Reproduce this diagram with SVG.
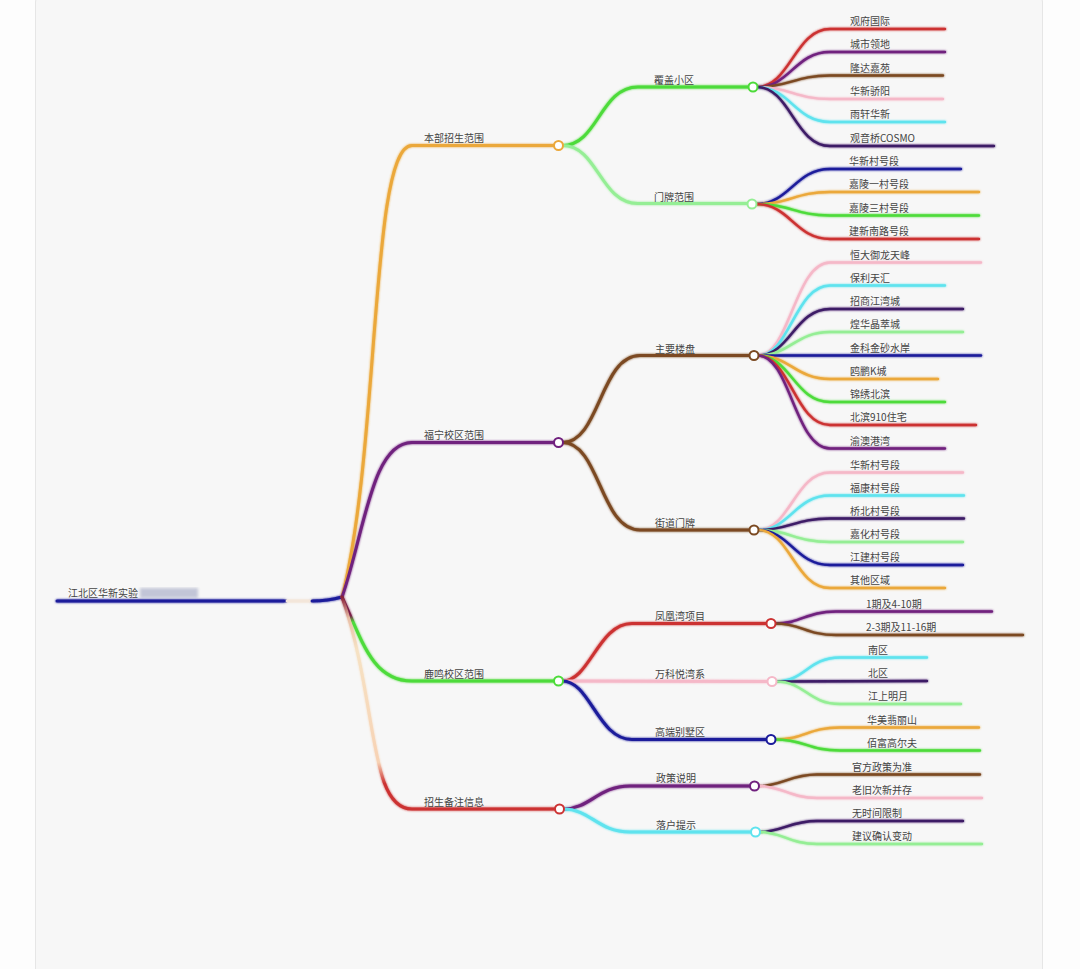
<svg xmlns="http://www.w3.org/2000/svg" width="1080" height="969" viewBox="0 0 1080 969">
<defs>
<style>
text{font-family:"Noto Sans CJK SC","Noto Sans",sans-serif;font-size:10px;fill:#444}
.c path{fill:none;stroke-linecap:round}
.l1{stroke-width:3}
.l2{stroke-width:3}
.lf{stroke-width:2.4}
.dot{fill:#fff;stroke-width:2}
</style>
<filter id="glow" x="-5%" y="-5%" width="110%" height="110%">
<feGaussianBlur in="SourceGraphic" stdDeviation="1.1" result="b"/>
<feMerge><feMergeNode in="b"/><feMergeNode in="SourceGraphic"/></feMerge>
</filter>
<filter id="blur"><feGaussianBlur stdDeviation="1.4"/></filter>
<linearGradient id="gRed" gradientUnits="userSpaceOnUse" x1="0" y1="597" x2="0" y2="809">
<stop offset="0" stop-color="#8a2038"/>
<stop offset="0.1" stop-color="#e9c0a8"/>
<stop offset="0.25" stop-color="#f6e2c4"/>
<stop offset="0.78" stop-color="#f7d2b4"/>
<stop offset="0.88" stop-color="#cc3333"/>
<stop offset="1" stop-color="#cc3333"/>
</linearGradient>
<linearGradient id="gGreen" gradientUnits="userSpaceOnUse" x1="0" y1="597" x2="0" y2="681">
<stop offset="0" stop-color="#7a1f4a"/>
<stop offset="0.22" stop-color="#7a1f4a"/>
<stop offset="0.3" stop-color="#4ddb3a"/>
<stop offset="1" stop-color="#4ddb3a"/>
</linearGradient>
</defs>
<rect x="0" y="0" width="1080" height="969" fill="#fdfdfd"/>
<rect x="35.5" y="-12" width="1007" height="1000" rx="14" fill="#f7f7f7" stroke="#e6e6e6"/>

<g id="connectors" class="c" filter="url(#glow)">
<!-- root -->
<path d="M57,601 L286,601" stroke="#1b1b9b" class="l1"/>
<path d="M287,601 L311,601" stroke="#f3e6da" class="l1"/>
<path d="M312,601 C328,601 335,599 342,597" stroke="#1b1b9b" class="l1"/>
<!-- level 1 -->
<path d="M342,597 C380,450 370,145.5 412,145.5 L554,145.5" stroke="#eba83a" class="l1"/>
<path d="M342,597 C365,530 372,442.5 412,442.5 L554,442.5" stroke="#70207e" class="l1"/>
<path d="M342,597 C362,640 372,681 412,681 L554,681" stroke="url(#gGreen)" class="l1"/>
<path d="M342,597 C378,700 368,809 412,809 L555,809" stroke="url(#gRed)" class="l1"/>
<!-- level 2 -->
<path d="M562.5,145.5 C598,145.5 600,87 638,87 L749,87" stroke="#4ddb3a" class="l2"/>
<path d="M562.5,145.5 C598,145.5 600,203.5 638,203.5 L748,203.5" stroke="#95ee95" class="l2"/>
<path d="M562.5,442.5 C600,442.5 600,355.5 640,355.5 L750,355.5" stroke="#7b4a22" class="l2"/>
<path d="M562.5,442.5 C600,442.5 600,530 640,530 L750,530" stroke="#7b4a22" class="l2"/>
<path d="M562.5,681 C590,681 598,623.5 632,623.5 L766.5,623.5" stroke="#cc3333" class="l2"/>
<path d="M562.5,681 L767.5,681.5" stroke="#f5b8c8" class="l2"/>
<path d="M562.5,681 C590,681 598,739.5 632,739.5 L766.5,739.5" stroke="#1b1b9b" class="l2"/>
<path d="M564,809 C590,809 598,786 630,786 L750,786" stroke="#70207e" class="l2"/>
<path d="M564,809 C590,809 598,832 630,832 L751,832" stroke="#5ee3ee" class="l2"/>
<!-- leaves: 覆盖小区 -->
<path d="M757,87 C790,87 795,29 830,29 L945,29" stroke="#cc3333" class="lf"/>
<path d="M757,87 C790,87 795,52 830,52 L945,52" stroke="#70207e" class="lf"/>
<path d="M757,87 C790,87 795,75.5 830,75.5 L943,75.5" stroke="#7b4a22" class="lf"/>
<path d="M757,87 C790,87 795,99 830,99 L943,99" stroke="#f5b8c8" class="lf"/>
<path d="M757,87 C790,87 795,122 830,122 L945,122" stroke="#5ee3ee" class="lf"/>
<path d="M757,87 C790,87 795,146 830,146 L994,146" stroke="#3d1a66" class="lf"/>
<!-- 门牌范围 -->
<path d="M756,204 C790,204 795,169 830,169 L961,169" stroke="#1b1b9b" class="lf"/>
<path d="M756,204 C790,204 795,192 830,192 L979,192" stroke="#eba83a" class="lf"/>
<path d="M756,204 C790,204 795,215.5 830,215.5 L979,215.5" stroke="#4ddb3a" class="lf"/>
<path d="M756,204 C790,204 795,239 830,239 L979,239" stroke="#cc3333" class="lf"/>
<!-- 主要楼盘 -->
<path d="M758,355.5 C790,355.5 795,262.5 830,262.5 L981,262.5" stroke="#f5b8c8" class="lf"/>
<path d="M758,355.5 C790,355.5 795,285.5 830,285.5 L945,285.5" stroke="#5ee3ee" class="lf"/>
<path d="M758,355.5 C790,355.5 795,309 830,309 L963,309" stroke="#3d1a66" class="lf"/>
<path d="M758,355.5 C790,355.5 795,332 830,332 L963,332" stroke="#95ee95" class="lf"/>
<path d="M758,355.5 L981,355.5" stroke="#1b1b9b" class="lf"/>
<path d="M758,355.5 C790,355.5 795,379 830,379 L938,379" stroke="#eba83a" class="lf"/>
<path d="M758,355.5 C790,355.5 795,402 830,402 L945,402" stroke="#4ddb3a" class="lf"/>
<path d="M758,355.5 C790,355.5 795,425 830,425 L976,425" stroke="#cc3333" class="lf"/>
<path d="M758,355.5 C790,355.5 795,448.5 830,448.5 L945,448.5" stroke="#70207e" class="lf"/>
<!-- 街道门牌 -->
<path d="M758,530 C790,530 795,472.5 830,472.5 L963,472.5" stroke="#f5b8c8" class="lf"/>
<path d="M758,530 C790,530 795,495.5 830,495.5 L964,495.5" stroke="#5ee3ee" class="lf"/>
<path d="M758,530 C790,530 795,518.5 830,518.5 L964,518.5" stroke="#3d1a66" class="lf"/>
<path d="M758,530 C790,530 795,542 830,542 L963,542" stroke="#95ee95" class="lf"/>
<path d="M758,530 C790,530 795,565 830,565 L963,565" stroke="#1b1b9b" class="lf"/>
<path d="M758,530 C790,530 795,588 830,588 L945,588" stroke="#eba83a" class="lf"/>
<!-- 凤凰湾项目 -->
<path d="M775,623.5 C802,623.5 806,611.5 836,611.5 L992,611.5" stroke="#70207e" class="lf"/>
<path d="M775,623.5 C802,623.5 806,635 836,635 L1023,635" stroke="#7b4a22" class="lf"/>
<!-- 万科悦湾系 -->
<path d="M776,681.5 C805,681.5 808,657.5 840,657.5 L927,657.5" stroke="#5ee3ee" class="lf"/>
<path d="M776,681.5 L927,681" stroke="#3d1a66" class="lf"/>
<path d="M776,681.5 C805,681.5 808,704 840,704 L961,704" stroke="#95ee95" class="lf"/>
<!-- 高端别墅区 -->
<path d="M775,739.5 C805,739.5 808,727.5 840,727.5 L979,727.5" stroke="#eba83a" class="lf"/>
<path d="M775,739.5 C805,739.5 808,750.5 840,750.5 L980,750.5" stroke="#4ddb3a" class="lf"/>
<!-- 政策说明 -->
<path d="M758.5,786 C782,786 790,774.5 817,774.5 L980,774.5" stroke="#7b4a22" class="lf"/>
<path d="M758.5,786 C782,786 790,798 817,798 L982,798" stroke="#f5b8c8" class="lf"/>
<!-- 落户提示 -->
<path d="M759.5,832 C782,832 790,821 817,821 L963,821" stroke="#3d1a66" class="lf"/>
<path d="M759.5,832 C782,832 790,844 817,844 L982,844" stroke="#95ee95" class="lf"/>
</g>

<g id="root">
<text x="68" y="597">江北区华新实验</text>
<rect x="140" y="588" width="58" height="10" fill="#8f95b8" opacity="0.5" filter="url(#blur)"/>
</g>

<g id="n-benbu"><circle class="dot" cx="558.5" cy="145.5" r="4.5" stroke="#eba83a"/><text x="424" y="142">本部招生范围</text></g>
<g id="n-funing"><circle class="dot" cx="558.5" cy="442.5" r="4.5" stroke="#70207e"/><text x="424" y="439">福宁校区范围</text></g>
<g id="n-luming"><circle class="dot" cx="558.5" cy="681" r="4.5" stroke="#4ddb3a"/><text x="424" y="677.5">鹿鸣校区范围</text></g>
<g id="n-beizhu"><circle class="dot" cx="559.5" cy="809" r="4.5" stroke="#cc3333"/><text x="424" y="805.5">招生备注信息</text></g>

<g id="n-fugai"><circle class="dot" cx="753" cy="87" r="4.5" stroke="#4ddb3a"/><text x="654" y="84">覆盖小区</text></g>
<g id="n-menpai"><circle class="dot" cx="752" cy="204" r="4.5" stroke="#95ee95"/><text x="654" y="200.5">门牌范围</text></g>
<g id="n-zhuyao"><circle class="dot" cx="754" cy="355.5" r="4.5" stroke="#7b4a22"/><text x="655" y="352.5">主要楼盘</text></g>
<g id="n-jiedao"><circle class="dot" cx="754" cy="530" r="4.5" stroke="#7b4a22"/><text x="655" y="527">街道门牌</text></g>
<g id="n-fenghuang"><circle class="dot" cx="771" cy="623.5" r="4.5" stroke="#cc3333"/><text x="655" y="620">凤凰湾项目</text></g>
<g id="n-wanke"><circle class="dot" cx="772" cy="681.5" r="4.5" stroke="#f5b8c8"/><text x="655" y="678">万科悦湾系</text></g>
<g id="n-gaoduan"><circle class="dot" cx="771" cy="739.5" r="4.5" stroke="#1b1b9b"/><text x="655" y="736">高端别墅区</text></g>
<g id="n-zhengce"><circle class="dot" cx="754.5" cy="786" r="4.5" stroke="#70207e"/><text x="656" y="782">政策说明</text></g>
<g id="n-luohu"><circle class="dot" cx="755.5" cy="832" r="4.5" stroke="#5ee3ee"/><text x="656" y="829">落户提示</text></g>

<g id="leaves-fugai">
<text x="850" y="25">观府国际</text>
<text x="850" y="48">城市领地</text>
<text x="850" y="71.5">隆达嘉苑</text>
<text x="850" y="95">华新骄阳</text>
<text x="850" y="118">雨轩华新</text>
<text x="850" y="142">观音桥COSMO</text>
</g>
<g id="leaves-menpai">
<text x="849" y="165">华新村号段</text>
<text x="849" y="188">嘉陵一村号段</text>
<text x="849" y="211.5">嘉陵三村号段</text>
<text x="849" y="235">建新南路号段</text>
</g>
<g id="leaves-zhuyao">
<text x="850" y="258.5">恒大御龙天峰</text>
<text x="850" y="281.5">保利天汇</text>
<text x="850" y="305">招商江湾城</text>
<text x="850" y="328">煌华晶萃城</text>
<text x="850" y="351.5">金科金砂水岸</text>
<text x="850" y="375">鸥鹏K城</text>
<text x="850" y="398">锦绣北滨</text>
<text x="850" y="421">北滨910住宅</text>
<text x="850" y="444.5">渝澳港湾</text>
</g>
<g id="leaves-jiedao">
<text x="850" y="468.5">华新村号段</text>
<text x="850" y="491.5">福康村号段</text>
<text x="850" y="514.5">桥北村号段</text>
<text x="850" y="538">嘉化村号段</text>
<text x="850" y="561">江建村号段</text>
<text x="850" y="584">其他区域</text>
</g>
<g id="leaves-fenghuang">
<text x="866" y="607.5">1期及4-10期</text>
<text x="866" y="631">2-3期及11-16期</text>
</g>
<g id="leaves-wanke">
<text x="868" y="653.5">南区</text>
<text x="868" y="677">北区</text>
<text x="868" y="700">江上明月</text>
</g>
<g id="leaves-gaoduan">
<text x="867" y="723.5">华美翡丽山</text>
<text x="867" y="746.5">佰富高尔夫</text>
</g>
<g id="leaves-zhengce">
<text x="852" y="770.5">官方政策为准</text>
<text x="852" y="794">老旧次新并存</text>
</g>
<g id="leaves-luohu">
<text x="852" y="817">无时间限制</text>
<text x="852" y="840">建议确认变动</text>
</g>
</svg>
